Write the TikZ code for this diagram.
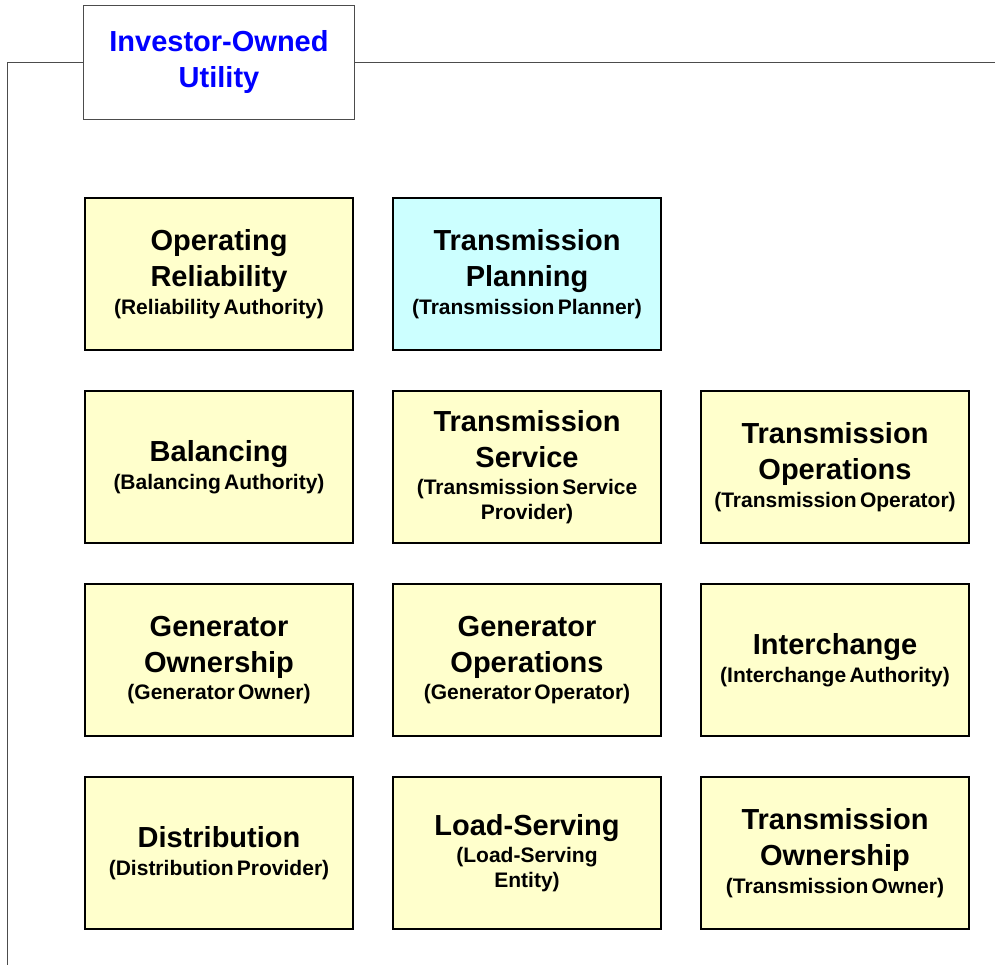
\documentclass[tikz,border=0pt]{standalone}
\usepackage{fontspec}
\setmainfont{Liberation Sans}
\usetikzlibrary{positioning}
\definecolor{boxyellow}{HTML}{FFFFCC}
\definecolor{boxcyan}{HTML}{CCFFFF}
\definecolor{titleblue}{HTML}{0000FF}
\newcommand{\rolefont}{\fontsize{29}{36}\selectfont\bfseries}
\newcommand{\entityfont}{\fontsize{21}{25}\selectfont\bfseries}
\newcommand{\func}[2]{{\rolefont #1\par}\vskip2.5pt{\entityfont #2\par}}
\begin{document}
\begin{tikzpicture}[x=1pt,y=-1pt,line join=miter]
	\tikzset{fn/.style={draw=black,line width=2pt,fill=boxyellow,minimum width=268pt,minimum height=152pt,text width=262pt,align=center,inner sep=3pt}}
	\tikzset{frame/.style={draw=black!70,line width=0.9pt}}
	\useasboundingbox (0,0) rectangle (995,965);
	% title and frame
	\node[frame,minimum width=271pt,minimum height=114pt,text width=262pt,align=center,text=titleblue,font=\rolefont] (iou) at (219,62.5) {Investor-Owned\\Utility};
	\coordinate (fl) at (7,62.5);
	\coordinate (fb) at (7,965);
	\coordinate (fr) at (995,62.5);
	\draw[frame] (iou.west) -- (fl) -- (fb);
	\draw[frame] (iou.east) -- (fr);
	% functions
	\node[fn] (orel) at (219,274) {\func{Operating\\Reliability}{(Reliability Authority)}};
	\node[fn,fill=boxcyan,right=38pt of orel] (tplan) {\func{Transmission\\Planning}{(Transmission Planner)}};
	\node[fn,below=39pt of orel] (bal) {\func{Balancing}{(Balancing Authority)}};
	\node[fn,right=38pt of bal] (tserv) {\func{Transmission\\Service}{(Transmission Service\\Provider)}};
	\node[fn,right=38pt of tserv] (tops) {\func{Transmission\\Operations}{(Transmission Operator)}};
	\node[fn,below=39pt of bal] (genown) {\func{Generator\\Ownership}{(Generator Owner)}};
	\node[fn,right=38pt of genown] (genops) {\func{Generator\\Operations}{(Generator Operator)}};
	\node[fn,right=38pt of genops] (inter) {\func{Interchange}{(Interchange Authority)}};
	\node[fn,below=39pt of genown] (dist) {\func{Distribution}{(Distribution Provider)}};
	\node[fn,right=38pt of dist] (lse) {\func{Load-Serving}{(Load-Serving\\Entity)}};
	\node[fn,right=38pt of lse] (town) {\func{Transmission\\Ownership}{(Transmission Owner)}};
\end{tikzpicture}
\end{document}
